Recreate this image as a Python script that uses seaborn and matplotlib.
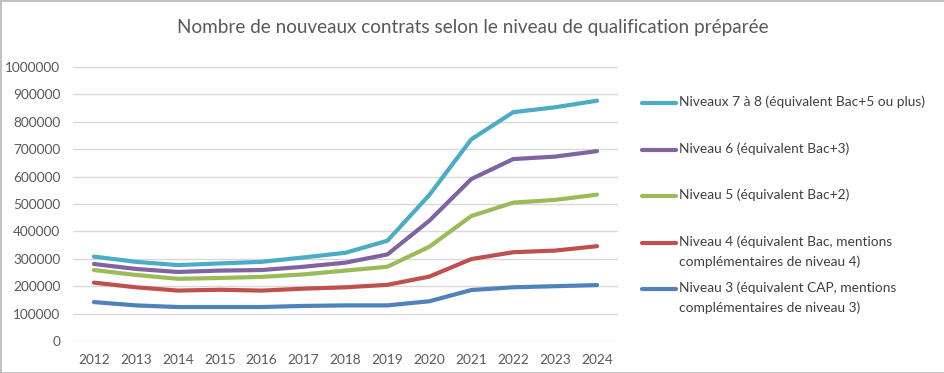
"""
Nouveaux contrats d'apprentissage selon le niveau de qualification préparée.
"""

import matplotlib

matplotlib.use("Agg")

import matplotlib.pyplot as plt
import pandas as pd
import seaborn as sns
from matplotlib.lines import Line2D
from matplotlib.patches import Rectangle

YEARS = [str(y) for y in range(2012, 2025)]

NIVEAU_3 = [142000, 130000, 124000, 124000, 124000, 128000, 130000,
            130000, 145000, 186000, 196000, 200000, 204000]
NIVEAU_4 = [213000, 196000, 184000, 187000, 184000, 191000, 196000,
            205000, 235000, 299000, 324000, 330000, 346000]
NIVEAU_5 = [259000, 241000, 227000, 230000, 234000, 243000, 257000,
            271000, 344000, 456000, 505000, 515000, 534000]
NIVEAU_6 = [281000, 263000, 252000, 257000, 259000, 271000, 286000,
            316000, 439000, 591000, 664000, 673000, 693000]
NIVEAUX_7_8 = [308000, 289000, 277000, 283000, 289000, 305000, 322000,
               366000, 533000, 736000, 835000, 853000, 877000]

LABELS = [
    "Niveaux 7 à 8 (équivalent Bac+5 ou plus)",
    "Niveau 6 (équivalent Bac+3)",
    "Niveau 5 (équivalent Bac+2)",
    "Niveau 4 (équivalent Bac, mentions\ncomplémentaires de niveau 4)",
    "Niveau 3 (équivalent CAP, mentions\ncomplémentaires de niveau 3)",
]
SERIES = [NIVEAUX_7_8, NIVEAU_6, NIVEAU_5, NIVEAU_4, NIVEAU_3]
COLORS = ["#4BACC6", "#8064A2", "#9BBB59", "#C0504D", "#4F81BD"]

TITLE = "Nombre de nouveaux contrats selon le niveau de qualification préparée"
YTICKS = list(range(0, 1000001, 100000))

TEXT_GRAY = "#595959"
GRID_GRAY = "#D9D9D9"


def build_frame() -> pd.DataFrame:
    rows = []
    for label, values in zip(LABELS, SERIES):
        for year, value in zip(YEARS, values):
            rows.append({"annee": year, "contrats": value, "niveau": label})
    return pd.DataFrame(rows)


def main():
    sns.set_theme(style="white")
    plt.rcParams["font.family"] = ["Lato", "DejaVu Sans"]

    df = build_frame()

    fig = plt.figure(figsize=(9.45, 3.73), dpi=100)
    ax = fig.add_axes([73 / 945, 1 - 341 / 373, 545 / 945, 274 / 373])

    sns.lineplot(
        data=df,
        x="annee",
        y="contrats",
        hue="niveau",
        hue_order=LABELS[::-1],
        palette=COLORS[::-1],
        linewidth=3,
        legend=False,
        ax=ax,
    )

    ax.set_xlim(-0.5, len(YEARS) - 0.5)
    ax.set_ylim(0, 1000000)
    ax.set_yticks(YTICKS)
    ax.set_yticklabels([str(v) for v in YTICKS])
    ax.yaxis.grid(True, color=GRID_GRAY, linewidth=1)
    ax.set_axisbelow(True)
    for side in ["top", "right", "left", "bottom"]:
        ax.spines[side].set_visible(False)
    ax.tick_params(axis="both", length=0, labelsize=9.8, colors=TEXT_GRAY)
    ax.tick_params(axis="y", pad=9)
    ax.tick_params(axis="x", pad=9)
    ax.set_xlabel("")
    ax.set_ylabel("")

    fig.text(0.5, 1 - 27 / 373, TITLE, ha="center", va="center",
             fontsize=13.6, color=TEXT_GRAY)

    # légende dessinée à la main : trait aligné sur la première ligne du texte
    entry_y = [103, 150, 196, 243, 289]
    for label, color, y_px in zip(LABELS, COLORS, entry_y):
        y = 1 - y_px / 373
        fig.add_artist(Line2D([642 / 945, 676 / 945], [y, y], color=color,
                              linewidth=3, transform=fig.transFigure))
        fig.text(679 / 945, y + 7.5 / 373, label, ha="left", va="top",
                 fontsize=9.9, color="#404040", linespacing=1.7)

    fig.add_artist(Rectangle((0, 0), 1, 1, transform=fig.transFigure,
                             fill=False, edgecolor="#BFBFBF", linewidth=2))

    fig.savefig("out.png", dpi=100)
    plt.close(fig)


if __name__ == "__main__":
    main()
